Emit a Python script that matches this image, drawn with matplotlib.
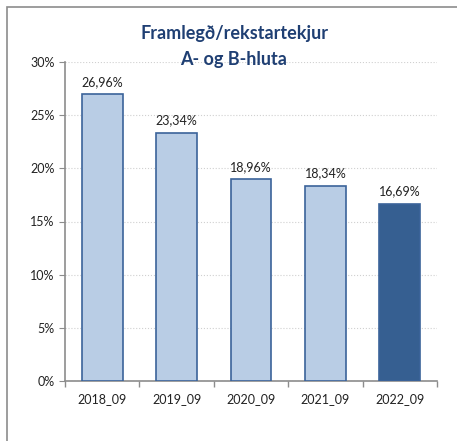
import matplotlib.pyplot as plt
from matplotlib.patches import Rectangle
from matplotlib.ticker import FuncFormatter

categories = ['2018_09', '2019_09', '2020_09', '2021_09', '2022_09']
values = [26.96, 23.34, 18.96, 18.34, 16.69]
labels = ['26,96%', '23,34%', '18,96%', '18,34%', '16,69%']

light = '#B9CDE5'
dark = '#365F91'
edge = '#3B639A'

plt.rcParams['font.family'] = ['Lato', 'DejaVu Sans']

fig = plt.figure(figsize=(4.57, 4.41), dpi=100)
# outer frame (only top and left are visible in the crop)
fig.add_artist(Rectangle((7 / 457, -0.1), 1.2, 1 - 7 / 441 + 0.1, transform=fig.transFigure,
                         fill=False, edgecolor='#8C8C8C', linewidth=1.2))

ax = fig.add_axes([65 / 457, 60 / 441, 372 / 457, 319 / 441])
x = range(len(categories))
colors = [light] * 4 + [dark]
ax.bar(x, values, width=0.55, color=colors, edgecolor=edge, linewidth=1.2, zorder=3)
for i, (v, lab) in enumerate(zip(values, labels)):
    ax.text(i, v + 0.6, lab, ha='center', va='bottom', fontsize=9, color='#222222')

ax.set_xlim(-0.5, 4.5)
ax.set_ylim(0, 30)
ax.set_yticks([0, 5, 10, 15, 20, 25, 30])
ax.yaxis.set_major_formatter(FuncFormatter(lambda v, p: f'{v:.0f}%'))
ax.set_xticks(list(x))
ax.set_xticklabels(categories)
ax.set_xticks([i + 0.5 for i in range(-1, 5)], minor=True)
ax.tick_params(axis='x', which='major', length=0, labelsize=9, pad=9, colors='#222222')
ax.tick_params(axis='x', which='minor', length=4, color='#8C8C8C', width=1)
ax.tick_params(axis='y', length=4, color='#8C8C8C', labelsize=9, labelcolor='#222222')
ax.grid(axis='y', linestyle=':', color='#D0D0D0', linewidth=0.8, zorder=0)
for s in ['top', 'right']:
    ax.spines[s].set_visible(False)
for s in ['left', 'bottom']:
    ax.spines[s].set_color('#8C8C8C')
    ax.spines[s].set_linewidth(1.2)

fig.text(234 / 457, 1 - 34 / 441, 'Framlegð/rekstartekjur', ha='center', va='center',
         fontsize=13, fontweight='bold', color='#1F3F73')
fig.text(234 / 457, 1 - 60 / 441, 'A- og B-hluta', ha='center', va='center',
         fontsize=13, fontweight='bold', color='#1F3F73')

fig.savefig('out.png', dpi=100)
